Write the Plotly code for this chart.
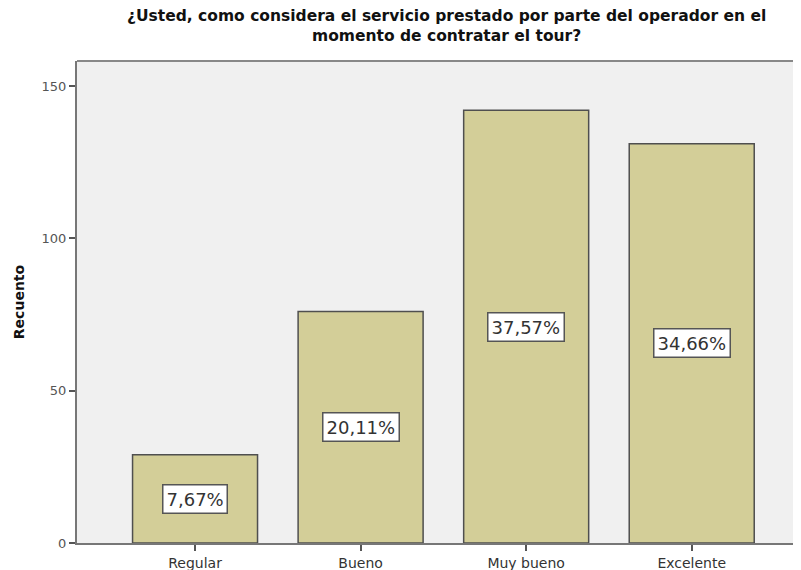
import plotly.graph_objects as go

categories = ["Regular", "Bueno", "Muy bueno", "Excelente"]
counts = [29, 76, 142, 131]
percent_labels = ["7,67%", "20,11%", "37,57%", "34,66%"]
y_ticks = [0, 50, 100, 150]
title_lines = [
    "¿Usted, como considera el servicio prestado por parte del operador en el",
    "momento de contratar el tour?",
]

FONT = "DejaVu Sans, Liberation Sans, Arial"

fig = go.Figure()
fig.add_trace(go.Bar(
    x=categories, y=counts, width=0.755,
    marker=dict(color="#D3CE98", line=dict(color="#4F4F4F", width=1.5)),
    hoverinfo="skip",
))

for c, v, t in zip(categories, counts, percent_labels):
    fig.add_annotation(
        x=c, y=v / 2, text=t, showarrow=False,
        font=dict(family=FONT, size=18, color="#333333"),
        bgcolor="white", bordercolor="#555555", borderwidth=1.5, borderpad=3,
    )

# title as a single two-line annotation above the plot area
fig.add_annotation(
    x=0.51, xref="paper", y=1.0736, yref="paper", xanchor="center", yanchor="middle",
    text="<b>" + "<br>".join(title_lines) + "</b>", showarrow=False,
    font=dict(family=FONT, size=15.5, color="#111111"),
)

fig.add_shape(type="line", xref="paper", yref="paper", x0=0, x1=1, y0=1, y1=1,
              line=dict(color="#888888", width=2))

# page body has an 8px margin: shrink the figure so it fits the 801x570 window
fig.update_layout(
    width=793, height=562,
    margin=dict(l=69, r=0, t=53, b=27),
    paper_bgcolor="white", plot_bgcolor="#F0F0F0",
    showlegend=False,
    xaxis=dict(
        range=[-0.713, 3.66], showgrid=False, showline=True, linecolor="#777777", linewidth=2,
        ticks="outside", ticklen=6, tickcolor="#555555", tickwidth=2,
        tickfont=dict(family=FONT, size=14, color="#333333"),
    ),
    yaxis=dict(
        range=[0, 158.2], tickvals=y_ticks, showgrid=False, zeroline=False,
        showline=True, linecolor="#777777", linewidth=2,
        ticks="outside", ticklen=6, tickcolor="#555555", tickwidth=2,
        tickfont=dict(family=FONT, size=13, color="#555555"),
        title=dict(text="<b>Recuento</b>", standoff=14,
                   font=dict(family=FONT, size=14, color="#111111")),
    ),
)

fig.write_html("out.html")
